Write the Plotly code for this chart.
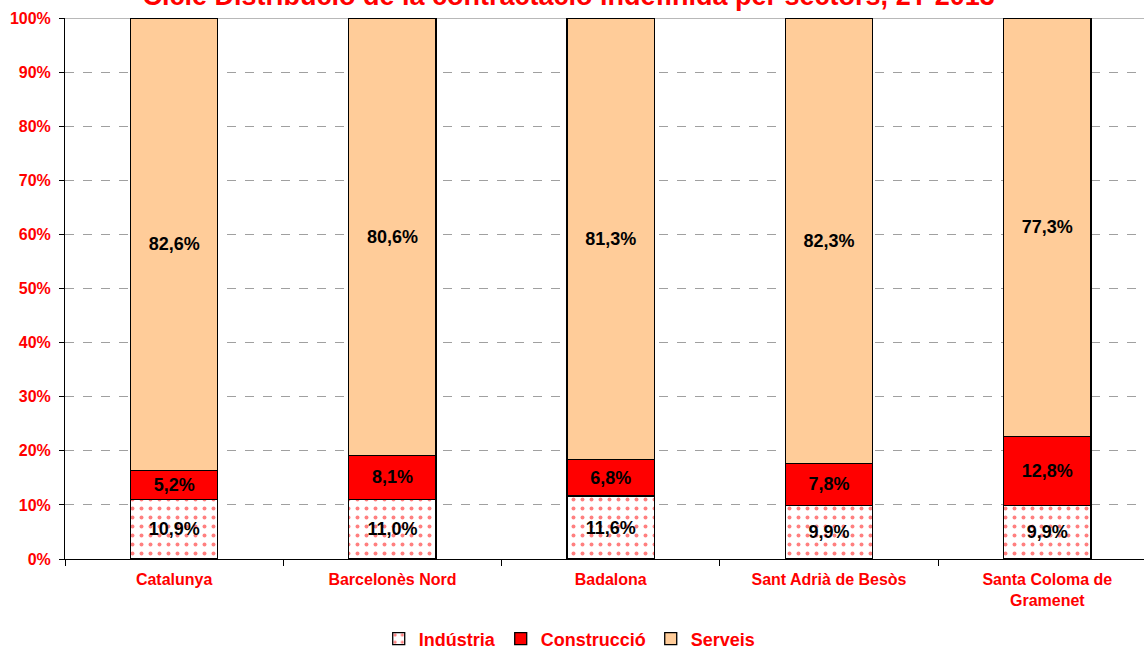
import plotly.graph_objects as go

categories = ["Catalunya", "Barcelonès Nord", "Badalona", "Sant Adrià de Besòs", "Santa Coloma de<br>Gramenet"]
industria = [10.9, 11.0, 11.6, 9.9, 9.9]
construccio = [5.2, 8.1, 6.8, 7.8, 12.8]
serveis = [82.6, 80.6, 81.3, 82.3, 77.3]
series_names = ["Indústria", "Construcció", "Serveis"]
y_ticks = [0, 10, 20, 30, 40, 50, 60, 70, 80, 90, 100]
title_text = "Cicle Distribució de la contractació indefinida per sectors, 2T 2013"

FONT = "Liberation Sans, Arial, sans-serif"
RED = "#FF0000"

def fmt(v):
    return f"{v:.1f}".replace(".", ",") + "%"

fig = go.Figure()
series = [
    (series_names[0], industria, dict(color="white", pattern=dict(shape=".", fgcolor=RED, bgcolor="white", size=9, solidity=0.15))),
    (series_names[1], construccio, dict(color=RED)),
    (series_names[2], serveis, dict(color="#FFCC99")),
]
for name, vals, mk in series:
    mk = dict(mk)
    mk["line"] = dict(color="black", width=1.3)
    fig.add_trace(go.Bar(
        x=categories, y=vals, name=name,
        text=[fmt(v) for v in vals], texttemplate="%{text}",
        textposition="inside", insidetextanchor="middle",
        textangle=0, constraintext="none",
        textfont=dict(family=FONT, size=18, color="black", weight="bold"),
        marker=mk, width=0.4,
    ))

fig.update_layout(
    barmode="stack", barnorm="percent",
    width=1144, height=648,
    margin=dict(l=65, r=0, t=18, b=89, autoexpand=False),
    paper_bgcolor="white", plot_bgcolor="white",
    font=dict(family=FONT, color=RED),
    showlegend=True,
    legend=dict(orientation="h", xref="container", yref="container",
                x=0.498, xanchor="center", y=0.014, yanchor="middle",
                font=dict(family=FONT, size=18, color=RED, weight="bold"),
                itemwidth=30, tracegroupgap=0, traceorder="normal"),
    title=dict(text=title_text, x=0.497, xanchor="center", xref="container",
               y=0.992, yanchor="bottom", yref="container",
               font=dict(family=FONT, size=27, color=RED, weight="bold")),
    uniformtext=dict(mode=False),
)
fig.update_xaxes(
    range=[-0.5, 4.443], showline=True, linecolor="black", linewidth=1,
    ticks="outside", tickson="boundaries", ticklen=6, tickcolor="black",
    ticklabelstandoff=6,
    tickfont=dict(family=FONT, size=16, color=RED, weight="bold"),
    showgrid=False, automargin=False,
)
fig.update_yaxes(
    range=[0, 100], tickvals=y_ticks, ticktext=[f"{t}%" for t in y_ticks],
    showline=True, linecolor="black", linewidth=1,
    ticks="outside", ticklen=5, tickcolor="black",
    ticklabelstandoff=5,
    tickfont=dict(family=FONT, size=16, color=RED, weight="bold"),
    showgrid=True, gridcolor="#A0A0A0", griddash="dash", gridwidth=1,
    zeroline=False, automargin=False,
)
fig.add_shape(type="line", xref="paper", yref="y", x0=0, x1=1, y0=100, y1=100,
              line=dict(color="#A0A0A0", width=1.5), layer="below")
fig.write_html("out.html", config={"displayModeBar": False},
               post_script="document.body.style.margin='0px';document.body.style.overflow='hidden';")
